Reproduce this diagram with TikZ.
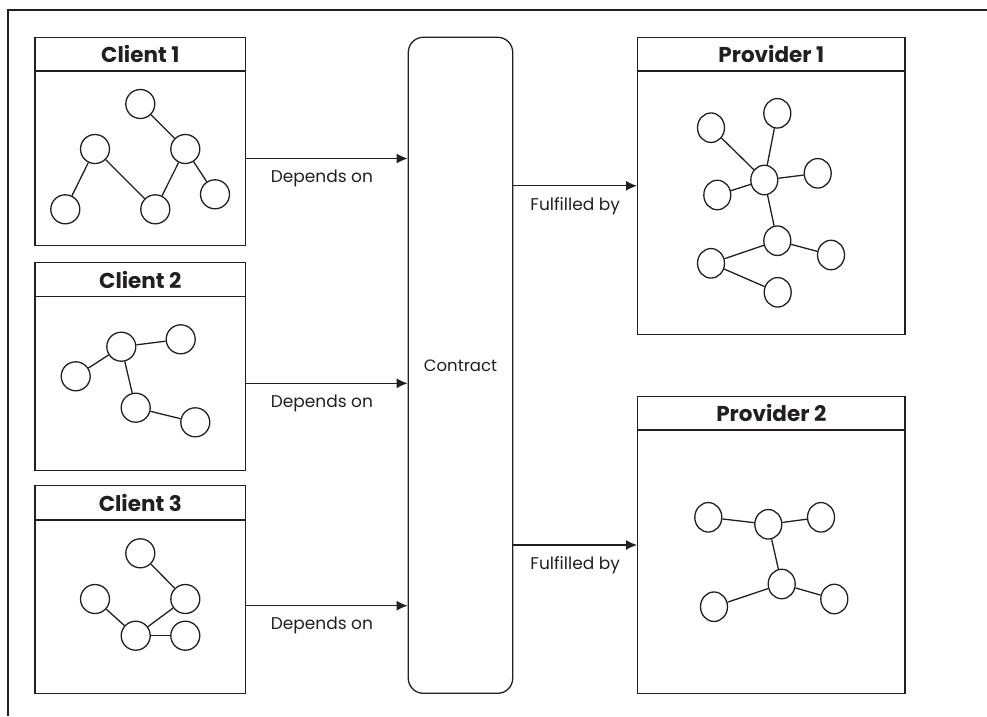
\documentclass[tikz,border=0pt]{standalone}
\usepackage{fontspec}
\setmainfont{Poppins}
\usepackage{tikz}
\usetikzlibrary{arrows.meta,shapes.geometric}
\definecolor{ink}{RGB}{35,31,32}
\tikzset{
	box/.style={draw, rectangle, inner sep=0pt},
	head/.style={draw, rectangle, anchor=north, inner sep=0pt, font=\fontsize{21.5}{24}\selectfont\bfseries},
	dot/.style={draw, circle, minimum size=29pt, inner sep=0pt},
	pdot/.style={draw, ellipse, minimum width=27pt, minimum height=29.5pt, inner sep=0pt},
	lbl/.style={font=\fontsize{17}{19}\selectfont, inner sep=0pt, below=11pt}
}

\begin{document}
\begin{tikzpicture}[x=1pt, y=-1pt, >={Latex[length=11pt,width=10pt]}, line width=1.3pt, color=ink]
		\useasboundingbox (0,0) rectangle (987,716);
		\draw (8,716) -- (8,10) -- (987,10);
		%clients
		\node [box, minimum width=210.5pt, minimum height=208.5pt] (client1) at (140.3,141.5) {};
		\node [head, minimum width=210.5pt, minimum height=33.7pt] at (client1.north) {Client 1};
		\node [box, minimum width=210.5pt, minimum height=208pt] (client2) at (140.3,366.7) {};
		\node [head, minimum width=210.5pt, minimum height=33.7pt] at (client2.north) {Client 2};
		\node [box, minimum width=210.5pt, minimum height=208pt] (client3) at (140.3,589.7) {};
		\node [head, minimum width=210.5pt, minimum height=34.3pt] at (client3.north) {Client 3};
		%contract
		\node [box, rounded corners=15pt, minimum width=104.4pt, minimum height=656pt, font=\fontsize{16.5}{18}\selectfont] (contract) at (460.5,365.3) {Contract};
		%providers
		\node [box, minimum width=267.3pt, minimum height=297pt] (provider1) at (771.3,185.8) {};
		\node [head, minimum width=267.3pt, minimum height=33.7pt] at (provider1.north) {Provider 1};
		\node [box, minimum width=267.3pt, minimum height=296.6pt] (provider2) at (771.3,545) {};
		\node [head, minimum width=267.3pt, minimum height=33.3pt] at (provider2.north) {Provider 2};
		%arrows
		\draw [->] ([yshift=-17pt]client1.east) -- ([yshift=-17pt]client1.east -| contract.west) node [pos=0.5, lbl, xshift=-5pt] {Depends on};
		\draw [->] ([yshift=-16.6pt]client2.east) -- ([yshift=-16.6pt]client2.east -| contract.west) node [pos=0.5, lbl, xshift=-5pt] {Depends on};
		\draw [->] ([yshift=-16pt]client3.east) -- ([yshift=-16pt]client3.east -| contract.west) node [pos=0.5, lbl, xshift=-5pt] {Depends on};
		\draw [->] (contract.east |- provider1.west) -- (provider1.west) node [pos=0.5, lbl] {Fulfilled by};
		\draw [->] (contract.east |- provider2.west) -- (provider2.west) node [pos=0.5, lbl] {Fulfilled by};
		%client 1 graph
		\node [dot] (c1a) at (140.3,104) {};
		\node [dot] (c1b) at (95,149) {};
		\node [dot] (c1c) at (185.3,149) {};
		\node [dot] (c1d) at (65.3,209.3) {};
		\node [dot] (c1e) at (155.3,209.3) {};
		\node [dot] (c1f) at (215,194.3) {};
		\draw (c1a) -- (c1c);
		\draw (c1b) -- (c1d);
		\draw (c1b) -- (c1e);
		\draw (c1c) -- (c1e);
		\draw (c1c) -- (c1f);
		%client 2 graph
		\node [dot] (c2a) at (121.3,346.7) {};
		\node [dot] (c2b) at (180.7,339.3) {};
		\node [dot] (c2c) at (75.7,376.3) {};
		\node [dot] (c2d) at (135.7,407.7) {};
		\node [dot] (c2e) at (195.3,422.3) {};
		\draw (c2a) -- (c2b);
		\draw (c2a) -- (c2c);
		\draw (c2a) -- (c2d);
		\draw (c2d) -- (c2e);
		%client 3 graph
		\node [dot] (c3a) at (140.3,553.3) {};
		\node [dot] (c3b) at (95,599) {};
		\node [dot] (c3c) at (185.3,599) {};
		\node [dot] (c3d) at (135.7,635.7) {};
		\node [dot] (c3e) at (185.3,635.7) {};
		\draw (c3a) -- (c3c);
		\draw (c3b) -- (c3d);
		\draw (c3c) -- (c3d);
		\draw (c3d) -- (c3e);
		%provider 1 graph
		\node [pdot] (p1a) at (711,127.7) {};
		\node [pdot] (p1b) at (777.3,113.3) {};
		\node [pdot] (p1c) at (764.3,180) {};
		\node [pdot] (p1d) at (717.3,195) {};
		\node [pdot] (p1e) at (817.7,173.3) {};
		\node [pdot] (p1f) at (777.3,240.7) {};
		\node [pdot] (p1g) at (711,263.3) {};
		\node [pdot] (p1h) at (831,255) {};
		\node [pdot] (p1i) at (777.7,292.3) {};
		\draw (p1a) -- (p1c);
		\draw (p1b) -- (p1c);
		\draw (p1d) -- (p1c);
		\draw (p1e) -- (p1c);
		\draw (p1c) -- (p1f);
		\draw (p1f) -- (p1g);
		\draw (p1f) -- (p1h);
		\draw (p1g) -- (p1i);
		%provider 2 graph
		\node [pdot] (p2a) at (708.3,517.3) {};
		\node [pdot] (p2b) at (768.3,524.3) {};
		\node [pdot] (p2c) at (821,517.3) {};
		\node [pdot] (p2d) at (781.7,584) {};
		\node [pdot] (p2e) at (714,606.7) {};
		\node [pdot] (p2f) at (834.3,599) {};
		\draw (p2a) -- (p2b);
		\draw (p2b) -- (p2c);
		\draw (p2b) -- (p2d);
		\draw (p2d) -- (p2e);
		\draw (p2d) -- (p2f);
	\end{tikzpicture}
\end{document}
